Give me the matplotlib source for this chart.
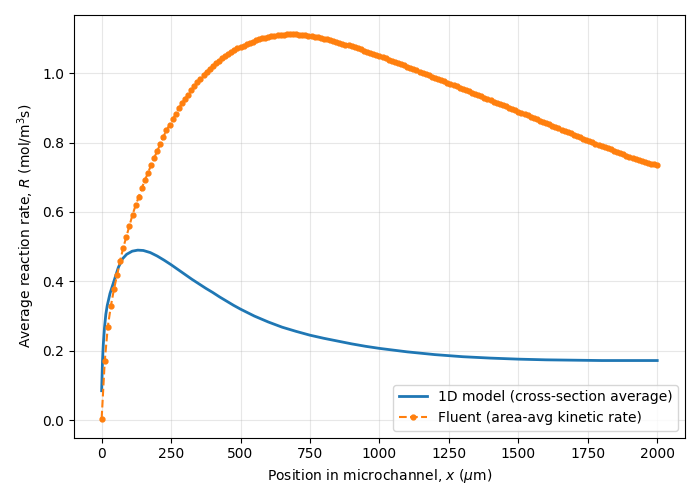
import numpy as np
import matplotlib
matplotlib.use("Agg")
import matplotlib.pyplot as plt

# 1D model (cross-section average)
x_model = [0, 3, 6, 10, 15, 20, 30, 40, 50, 60, 75, 90, 110, 130, 150, 175, 200,
           225, 250, 275, 300, 325, 350, 375, 400, 425, 450, 475, 500, 550, 600,
           650, 700, 750, 800, 850, 900, 950, 1000, 1100, 1200, 1300, 1400, 1500,
           1600, 1700, 1800, 1900, 2000]
r_model = [0.085, 0.17, 0.22, 0.265, 0.305, 0.33, 0.365, 0.39, 0.415, 0.44, 0.465,
           0.478, 0.487, 0.49, 0.489, 0.483, 0.473, 0.461, 0.448, 0.434, 0.42,
           0.406, 0.393, 0.380, 0.368, 0.355, 0.343, 0.331, 0.320, 0.300, 0.283,
           0.268, 0.256, 0.245, 0.236, 0.228, 0.220, 0.213, 0.207, 0.197, 0.189,
           0.183, 0.179, 0.176, 0.174, 0.173, 0.172, 0.172, 0.172]

# Fluent (area-avg kinetic rate), sampled on a uniform grid 0..2000 um
x_fluent = np.linspace(0, 2000, 181)
r_fluent = [
    0.005, 0.17, 0.27, 0.33, 0.378, 0.418, 0.46, 0.497, 0.529, 0.560,
    0.592, 0.619, 0.643, 0.668, 0.692, 0.712, 0.735, 0.756, 0.775, 0.796,
    0.817, 0.835, 0.851, 0.867, 0.882, 0.899, 0.913, 0.926, 0.938, 0.950,
    0.962, 0.973, 0.984, 0.995, 1.004, 1.013, 1.021, 1.029, 1.036, 1.043,
    1.049, 1.055, 1.061, 1.066, 1.071, 1.075, 1.079, 1.083, 1.087, 1.091,
    1.094, 1.097, 1.100, 1.102, 1.104, 1.106, 1.108, 1.109, 1.110, 1.111,
    1.112, 1.112, 1.112, 1.112, 1.111, 1.110, 1.109, 1.108, 1.107, 1.105,
    1.103, 1.101, 1.099, 1.097, 1.095, 1.093, 1.090, 1.088, 1.085, 1.082,
    1.080, 1.077, 1.074, 1.071, 1.068, 1.065, 1.062, 1.059, 1.056, 1.053,
    1.050, 1.046, 1.043, 1.039, 1.036, 1.032, 1.029, 1.025, 1.022, 1.018,
    1.015, 1.011, 1.008, 1.004, 1.001, 0.997, 0.994, 0.990, 0.986, 0.983,
    0.979, 0.976, 0.972, 0.969, 0.965, 0.962, 0.958, 0.954, 0.951, 0.947,
    0.944, 0.940, 0.936, 0.933, 0.929, 0.926, 0.922, 0.918, 0.915, 0.911,
    0.907, 0.904, 0.900, 0.897, 0.893, 0.889, 0.886, 0.882, 0.878, 0.874,
    0.871, 0.867, 0.863, 0.859, 0.856, 0.852, 0.848, 0.844, 0.841, 0.837,
    0.833, 0.829, 0.826, 0.822, 0.818, 0.815, 0.811, 0.808, 0.804, 0.801,
    0.797, 0.794, 0.790, 0.787, 0.783, 0.780, 0.776, 0.773, 0.769, 0.766,
    0.762, 0.759, 0.756, 0.753, 0.750, 0.747, 0.744, 0.741, 0.739, 0.737,
    0.735,
]

fig, ax = plt.subplots(figsize=(7, 5), dpi=100)
ax.plot(x_model, r_model, '-', color='tab:blue', linewidth=2,
        label='1D model (cross-section average)')
ax.plot(x_fluent, r_fluent, 'o--', color='tab:orange', markersize=3.5,
        label='Fluent (area-avg kinetic rate)')

ax.set_xlabel(r'Position in microchannel, $x$ ($\mu$m)')
ax.set_ylabel(r'Average reaction rate, $R$ (mol/m$^3$s)')
ax.grid(True, alpha=0.3)
ax.legend(loc='lower right')

fig.tight_layout()
fig.savefig('out.png')
